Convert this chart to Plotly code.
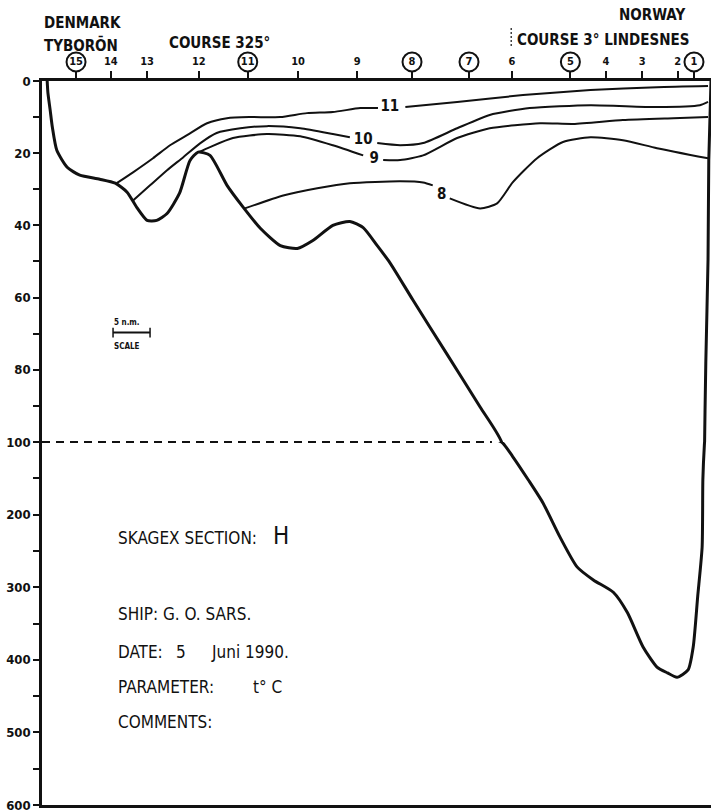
import plotly.graph_objects as go

# ---------------- data (distance in n.m. from the Danish coast, depth in m) -------------
station_names = ['15', '14', '13', '12', '11', '10', '9', '8', '7', '6', '5', '4', '3', '2', '1']
station_dist = [4.6, 9.3, 14.2, 21.2, 27.8, 34.6, 42.6, 50.0, 57.7, 63.5, 71.4, 76.2, 81.1, 85.9, 88.1]
circled_stations = ['15', '11', '8', '7', '5', '1']

bottom_dist = [0.7, 0.8, 1.1, 1.4, 2.0, 3.4, 5.1, 7.8, 9.9, 11.5, 12.8, 14.2, 15.5, 16.9, 18.6,
               20.0, 21.1, 22.7, 25.0, 27.2, 29.5, 32.2, 34.5, 36.6, 39.3, 41.6, 43.4, 45.3, 47.0,
               50.1, 54.7, 59.2, 62.1, 63.6, 65.7, 67.7, 70.0, 72.3, 74.5, 77.2, 79.1, 81.2, 83.1,
               84.5, 85.8, 87.3, 88.0, 88.6, 89.2, 89.3, 89.5, 89.7, 90.0, 90.1, 90.4]
bottom_depth = [0, 3.3, 8, 12.8, 19.2, 23.9, 26.1, 27.2, 28.3, 30.8, 35.0, 38.6, 38.6, 36.7, 31.0,
                22.0, 19.7, 20.6, 28.9, 35.0, 40.8, 45.6, 46.4, 44.2, 40.0, 38.9, 40.6, 45.6, 50.3,
                60.6, 75.6, 90.3, 100, 120, 152, 184, 231, 272, 290, 307, 335, 382, 410,
                418, 424, 414, 382, 313, 245, 152, 105, 77.8, 49.4, 22, 0]

iso11_dist = [10.1, 12.3, 15.0, 17.3, 19.6, 22.3, 25.0, 28.1, 32.2, 35.8, 39.3, 43.0, 45.4, None,
              49.1, 56.1, 65.0, 74.1, 83.1, 90.0]
iso11_depth = [28.3, 25.3, 21.4, 17.8, 15.0, 11.7, 10.3, 10.0, 10.0, 8.9, 8.6, 7.5, 7.5, None,
               7.2, 5.8, 3.9, 2.5, 1.7, 1.4]

iso10_dist = [12.3, 14.6, 16.9, 19.1, 21.4, 23.6, 26.8, 30.4, 34.9, 39.3, 41.6, None,
              45.3, 48.4, 51.5, 56.1, 60.5, 65.9, 74.1, 83.1, 88.9, 90.0]
iso10_depth = [33.1, 28.9, 24.7, 21.1, 17.2, 14.4, 13.1, 12.5, 13.1, 14.7, 15.6, None,
               17.2, 17.8, 17.2, 13.1, 9.4, 7.5, 6.7, 7.2, 6.7, 5.8]

iso9_dist = [21.2, 22.7, 25.8, 30.4, 34.9, 39.3, 43.4, None, 46.1, 48.4, 51.5, 56.1, 60.5,
             67.3, 71.8, 78.5, 85.3, 90.0]
iso9_depth = [19.7, 18.3, 15.8, 14.7, 15.3, 17.8, 20.6, None, 21.9, 21.9, 20.6, 15.8, 13.1,
              11.7, 11.9, 10.8, 10.3, 10.0]

iso8_dist = [27.4, 32.6, 37.2, 41.6, 48.4, 51.5, 52.8, None, 55.1, 59.2, 61.5, 63.6, 66.9,
             70.4, 74.1, 78.5, 83.1, 90.0]
iso8_depth = [35.3, 31.7, 29.7, 28.3, 27.8, 28.1, 28.9, None, 32.5, 35.3, 33.9, 28.1, 21.4,
              16.9, 15.6, 16.4, 18.6, 21.4]

iso_labels = ['11', '10', '9', '8']
iso_label_dist = [47.0, 43.4, 44.9, 54.0]
iso_label_depth = [7.3, 16.4, 21.7, 31.7]

scale_bar_dist = [9.6, 14.6]   # 5 n.m.
scale_bar_depth = [69.7, 69.7]

dashed_dist = [0, 60.8]
dashed_depth = [100, 100]

course_change_dist = [63.4, 63.4]
course_change_level = [-14.7, -9.2]

upper_ticks = [0, 10, 20, 30, 40, 50, 60, 70, 80, 90]
upper_ticktext = ['0', '', '20', '', '40', '', '60', '', '80', '']
lower_ticks = [100, 150, 200, 250, 300, 350, 400, 450, 500, 550, 600]
lower_ticktext = ['100', '', '200', '', '300', '', '400', '', '500', '', '600']

# ---------------------------------------------------------------------------------------
FONT = "DejaVu Sans Condensed, Liberation Sans Narrow, DejaVu Sans, sans-serif"
BLACK = "#111111"
D_LOW = 0.45093   # 100-600 m panel
D_HIGH = 0.89938  # 0-100 m panel ; above: header strip

fig = go.Figure()

for xa, ya in (('x', 'y'), ('x2', 'y2')):
    fig.add_trace(go.Scatter(x=bottom_dist, y=bottom_depth, mode='lines', xaxis=xa, yaxis=ya,
                             line=dict(color=BLACK, width=3, shape='spline', smoothing=0.6),
                             hoverinfo='skip'))
    fig.add_trace(go.Scatter(x=dashed_dist, y=dashed_depth, mode='lines', xaxis=xa, yaxis=ya,
                             line=dict(color=BLACK, width=1.8, dash='8px,6px'), hoverinfo='skip'))

for xs, ys in ((iso11_dist, iso11_depth), (iso10_dist, iso10_depth),
               (iso9_dist, iso9_depth), (iso8_dist, iso8_depth)):
    fig.add_trace(go.Scatter(x=xs, y=ys, mode='lines', xaxis='x', yaxis='y', connectgaps=False,
                             line=dict(color=BLACK, width=2, shape='spline', smoothing=0.6),
                             hoverinfo='skip'))

fig.add_trace(go.Scatter(x=iso_label_dist, y=iso_label_depth, mode='text', text=iso_labels,
                         xaxis='x', yaxis='y',
                         textfont=dict(family=FONT, size=15, color=BLACK, weight='bold'),
                         hoverinfo='skip'))

# scale bar
fig.add_trace(go.Scatter(x=scale_bar_dist, y=scale_bar_depth, mode='lines+markers',
                         xaxis='x', yaxis='y',
                         line=dict(color=BLACK, width=2),
                         marker=dict(symbol='line-ns-open', size=7, color=BLACK,
                                     line=dict(width=1.5, color=BLACK)),
                         hoverinfo='skip'))

# header strip: station labels, circles, course-change mark
fig.add_trace(go.Scatter(x=station_dist, y=[-5.3] * len(station_dist), mode='text',
                         text=station_names, xaxis='x3', yaxis='y3',
                         textfont=dict(family=FONT, size=11, color=BLACK, weight='bold'),
                         hoverinfo='skip'))
circ_x = [d for n, d in zip(station_names, station_dist) if n in circled_stations]
fig.add_trace(go.Scatter(x=circ_x, y=[-5.3] * len(circ_x), mode='markers', xaxis='x3', yaxis='y3',
                         marker=dict(symbol='circle-open', size=19, color=BLACK,
                                     line=dict(width=2, color=BLACK)),
                         hoverinfo='skip'))
fig.add_trace(go.Scatter(x=course_change_dist, y=course_change_level, mode='lines',
                         xaxis='x3', yaxis='y3',
                         line=dict(color=BLACK, width=1.2, dash='2px,2px'), hoverinfo='skip'))

annotations = []


def ann(text, x, y, size, xref='x3', yref='y3', weight='bold'):
    annotations.append(dict(text=text, x=x, y=y, xref=xref, yref=yref, xanchor='left',
                            yanchor='middle', showarrow=False, borderpad=0,
                            font=dict(family=FONT, size=size, color=BLACK, weight=weight)))


ann('DENMARK', 0.1, -16.1, 15)
ann('TYBORŌN', 0.1, -10.0, 15)
ann('COURSE 325°', 17.0, -10.6, 15)
ann('NORWAY', 77.9, -18.3, 15)
ann('COURSE 3° LINDESNES', 64.1, -11.4, 15)

ann('5 n.m.', 9.6, 66.8, 8, xref='x', yref='y')
ann('SCALE', 9.6, 73.6, 8, xref='x', yref='y')

ann('SKAGEX SECTION:', 10.1, 232, 17, xref='x2', yref='y2', weight='normal')
ann('H', 31.1, 230, 24, xref='x2', yref='y2', weight='normal')
ann('SHIP: G. O. SARS.', 10.1, 337, 17, xref='x2', yref='y2', weight='normal')
ann('DATE:', 10.1, 389, 17, xref='x2', yref='y2', weight='normal')
ann('5', 18.0, 389, 17, xref='x2', yref='y2', weight='normal')
ann('Juni 1990.', 22.7, 389, 17, xref='x2', yref='y2', weight='normal')
ann('PARAMETER:', 10.1, 438, 17, xref='x2', yref='y2', weight='normal')
ann('t° C', 28.4, 438, 17, xref='x2', yref='y2', weight='normal')
ann('COMMENTS:', 10.1, 485, 17, xref='x2', yref='y2', weight='normal')

tickfont = dict(family=FONT, size=13, color=BLACK, weight='bold')

fig.update_layout(
    width=712, height=812,
    margin=dict(l=42, r=1, t=0, b=7, autoexpand=False),
    paper_bgcolor='white', plot_bgcolor='white',
    showlegend=False,
    annotations=annotations,
    xaxis=dict(domain=[0, 1], anchor='y', side='top', range=[0, 90.4], automargin=False,
               showline=True, linecolor=BLACK, linewidth=2.5,
               ticks='outside', tickvals=station_dist, ticklen=7, tickwidth=1.5, tickcolor=BLACK,
               showticklabels=False, showgrid=False, zeroline=False),
    xaxis2=dict(domain=[0, 1], anchor='y2', matches='x', range=[0, 90.4], automargin=False,
                showline=True, linecolor=BLACK, linewidth=2.5, ticks='',
                showticklabels=False, showgrid=False, zeroline=False),
    xaxis3=dict(domain=[0, 1], anchor='y3', matches='x', range=[0, 90.4], visible=False),
    yaxis=dict(domain=[D_LOW, D_HIGH], anchor='x', range=[100, 0], automargin=False,
               showline=True, linecolor=BLACK, linewidth=2.5,
               ticks='outside', tickvals=upper_ticks, ticktext=upper_ticktext,
               ticklen=6, tickwidth=2, tickcolor=BLACK, tickfont=tickfont,
               showgrid=False, zeroline=False),
    yaxis2=dict(domain=[0, D_LOW], anchor='x2', range=[600, 100], automargin=False,
                showline=True, linecolor=BLACK, linewidth=2.5,
                ticks='outside', tickvals=lower_ticks, ticktext=lower_ticktext,
                ticklen=6, tickwidth=2, tickcolor=BLACK, tickfont=tickfont,
                ticklabeloverflow='allow',
                showgrid=False, zeroline=False),
    yaxis3=dict(domain=[D_HIGH, 1], anchor='x3', range=[0, -22.5], visible=False),
)

fig.write_html("out.html", config={'displayModeBar': False},
               post_script="document.body.style.margin='0';document.body.style.overflow='hidden';")
